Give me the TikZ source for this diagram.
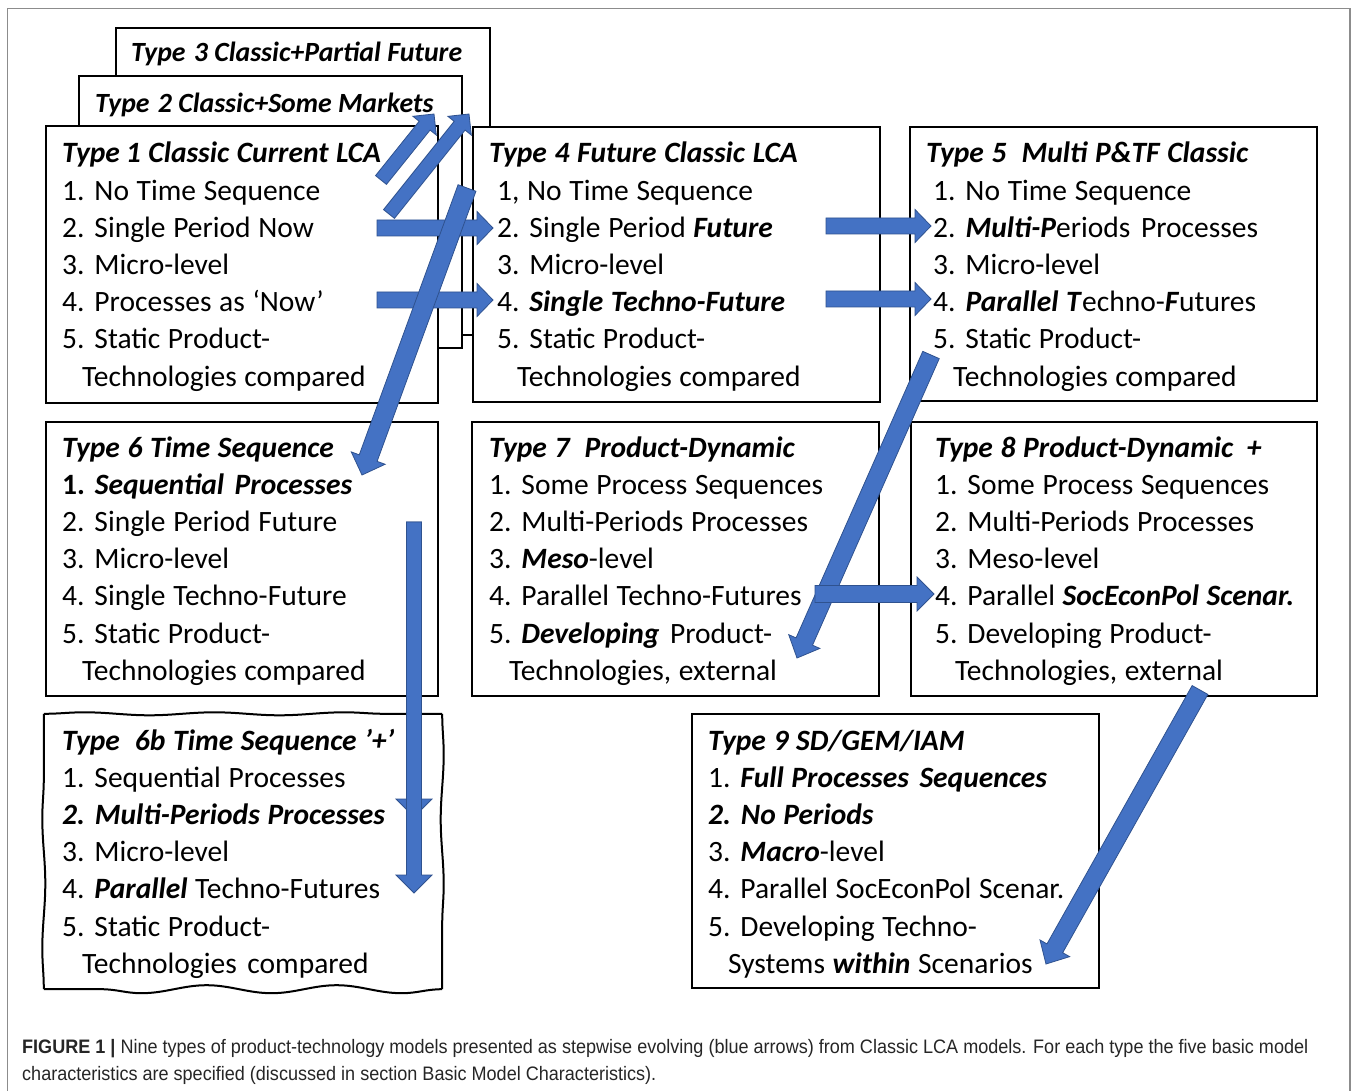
\documentclass[tikz,border=0pt]{standalone}
\usepackage{fontspec}
\usepackage{graphicx}
\setmainfont{Carlito}
\newfontfamily\capfont{Liberation Sans}
\usetikzlibrary{calc,decorations.pathmorphing}
\definecolor{ablue}{HTML}{4472C4}
\definecolor{aedge}{HTML}{2F528F}
\definecolor{framegray}{HTML}{8C8C8C}
\newcommand\bi[1]{\textbf{\textit{#1}}}
\newlength\itemind
\newcommand\boxlines[1]{\vtop{\spaceskip=.26em\relax\baselineskip=37.2pt\lineskiplimit=-100pt\lineskip=0pt #1}}
\newcommand\tli[1]{\hbox{#1}}
\newcommand\li[1]{\hbox{\hspace*{\itemind}#1}}
\newcommand\lc[1]{\hbox{\hspace*{\itemind}\hspace*{20pt}#1}}
% block arrow: from, to, half shaft, half head, head length
\newcommand\barrow[5]{%
  \coordinate (bh) at ($(#2)!#5!(#1)$);
  \filldraw[arrowstyle] ($(#1)!#3!90:(#2)$) -- ($(bh)!#3!90:(#2)$) -- ($(bh)!#4!90:(#2)$) -- (#2)
    -- ($(bh)!#4!-90:(#2)$) -- ($(bh)!#3!-90:(#2)$) -- ($(#1)!#3!-90:(#2)$) -- cycle;}
\tikzset{
  box/.style={draw, line width=2pt, fill=white, rectangle, inner sep=0pt},
  txt/.style={anchor=base west, inner sep=0pt, font=\fontsize{29.5}{37.2}\selectfont},
  ttl/.style={anchor=base west, inner sep=0pt, font=\fontsize{27.8}{30}\selectfont},
  arrowstyle/.style={fill=ablue, draw=aedge, line width=0.8pt, line join=miter},
  wavy/.style={line width=2pt, decorate, decoration={snake, amplitude=#1, segment length=130pt}},
}
\begin{document}
\begin{tikzpicture}[x=1pt,y=-1pt]
\useasboundingbox (0,0) rectangle (1358,1091);
\fill[white] (0,0) rectangle (1358,1091);
\draw[framegray, line width=1.5pt] (7.5,1091) -- (7.5,8.5) -- (1350,8.5) -- (1350,1091);

% stacked boxes 3, 2, 1
\node[box, minimum width=374pt, minimum height=307pt] (t3) at (303,181.5) {};
\node[ttl] (t3txt) at (131,62) {\bi{Type\hspace{.3em}3 Classic+Partial Future}};
\node[box, minimum width=383pt, minimum height=272pt] (t2) at (270.5,212) {};
\node[ttl] (t2txt) at (95,113) {\bi{Type\hspace{.3em}2 Classic+Some Markets}};
\node[box, minimum width=392pt, minimum height=277pt] (t1) at (242,264.5) {};
\node[txt] (t1txt) at (62,163) {\setlength\itemind{0pt}\boxlines{
  \tli{\bi{Type\hspace{.2em}1 Classic Current LCA}}
  \li{1. No Time Sequence}
  \li{2. Single Period Now}
  \li{3. Micro-level}
  \li{4. Processes as ‘Now’}
  \li{5. Static Product-}
  \lc{Technologies compared}}};

% type 4
\node[box, minimum width=407pt, minimum height=275pt] (t4) at (676.5,264.5) {};
\node[txt] (t4txt) at (489,163) {\setlength\itemind{8pt}\boxlines{
  \tli{\bi{Type 4 Future Classic LCA}}
  \li{1, No Time Sequence}
  \li{2. Single Period \bi{Future}}
  \li{3. Micro-level}
  \li{4. \bi{Single Techno-Future}}
  \li{5. Static Product-}
  \lc{Technologies compared}}};

% type 5
\node[box, minimum width=407pt, minimum height=274pt] (t5) at (1113.5,264) {};
\node[txt] (t5txt) at (926,163) {\setlength\itemind{7pt}\boxlines{
  \tli{\bi{Type 5\hspace{.25em} Multi P\&TF Classic}}
  \li{1. No Time Sequence}
  \li{2. \bi{Multi-P}eriods\hspace{.1em} Processes}
  \li{3. Micro-level}
  \li{4. \bi{Parallel T}echno-\bi{F}utures}
  \li{5. Static Product-}
  \lc{Technologies compared}}};

% type 6
\node[box, minimum width=392pt, minimum height=274pt] (t6) at (242,559) {};
\node[txt] (t6txt) at (62,457) {\setlength\itemind{0pt}\boxlines{
  \tli{\bi{Type 6 Time Sequence}}
  \li{\textbf{1.} \bi{Sequential\hspace{.1em} Processes}}
  \li{2. Single Period Future}
  \li{3. Micro-level}
  \li{4. Single Techno-Future}
  \li{5. Static Product-}
  \lc{Technologies compared}}};

% type 7
\node[box, minimum width=407pt, minimum height=274pt] (t7) at (675.5,559) {};
\node[txt] (t7txt) at (489,457) {\setlength\itemind{0pt}\boxlines{
  \tli{\bi{Type 7\hspace{.25em} Product-Dynamic}}
  \li{1. Some Process Sequences}
  \li{2. Multi-Periods Processes}
  \li{3. \bi{Meso}-level}
  \li{4. Parallel Techno-Futures}
  \li{5. \bi{Developing}\hspace{.1em} Product-}
  \lc{Technologies, external}}};

% type 8
\node[box, minimum width=406pt, minimum height=274pt] (t8) at (1114,559) {};
\node[txt] (t8txt) at (935,457) {\setlength\itemind{0pt}\boxlines{
  \tli{\bi{Type 8 Product-Dynamic\hspace{.2em} +}}
  \li{1. Some Process Sequences}
  \li{2. Multi-Periods Processes}
  \li{3. Meso-level}
  \li{4. Parallel \bi{SocEconPol Scenar.}}
  \li{5. Developing Product-}
  \lc{Technologies, external}}};

% type 6b (hand-drawn frame)
\node[rectangle, fill=white, inner sep=0pt, minimum width=398pt, minimum height=275pt] (t6b) at (243,851.5) {};
\draw[wavy=1.5pt] (t6b.north west) -- (t6b.north east);
\draw[wavy=1.5pt] (t6b.north east) -- (t6b.south east);
\draw[wavy=4pt] (t6b.south east) -- (t6b.south west);
\draw[wavy=1.5pt] (t6b.south west) -- (t6b.north west);
\node[txt] (t6btxt) at (62,750) {\setlength\itemind{0pt}\boxlines{
  \tli{\bi{Type\hspace{.25em} 6b Time Sequence ’+’}}
  \li{1. Sequential Processes}
  \li{\bi{2. Multi-Periods Processes}}
  \li{3. Micro-level}
  \li{4. \bi{Parallel} Techno-Futures}
  \li{5. Static Product-}
  \lc{Technologies\hspace{.1em} compared}}};

% type 9
\node[box, minimum width=407pt, minimum height=274pt] (t9) at (895.5,851) {};
\node[txt] (t9txt) at (708,750) {\setlength\itemind{0pt}\boxlines{
  \tli{\bi{Type 9 SD/GEM/IAM}}
  \li{1. \bi{Full Processes\hspace{.1em} Sequences}}
  \li{\bi{2. No Periods}}
  \li{3. \bi{Macro}-level}
  \li{4. Parallel SocEconPol Scenar.}
  \li{5. Developing Techno-}
  \lc{Systems \bi{within} Scenarios}}};

% arrow end points
\coordinate (aS) at (377,228);  \coordinate (aE) at (493,228);
\coordinate (bS) at (377,300);  \coordinate (bE) at (493,300);
\coordinate (cS) at (826,226);  \coordinate (cE) at (931,226);
\coordinate (dS) at (826,299);  \coordinate (dE) at (931,299);
\coordinate (fS) at (381,180);  \coordinate (fE) at (434,114);
\coordinate (gS) at (389,214);  \coordinate (gE) at (469,114);
\coordinate (hS) at (467,188);  \coordinate (hE) at (362,475);
\coordinate (iS) at (414,522);  \coordinate (iE) at (414,817);
\coordinate (jE) at (414,893);
\coordinate (kS) at (931,355);  \coordinate (kE) at (797,658);
\coordinate (eS) at (815,594);  \coordinate (eE) at (934,594);
\coordinate (mS) at (1200,690); \coordinate (mE) at (1046,964);

\barrow{fS}{fE}{7pt}{15pt}{15pt}
\barrow{gS}{gE}{7pt}{15pt}{15pt}
\barrow{aS}{aE}{8pt}{16.5pt}{16pt}
\barrow{bS}{bE}{8pt}{16.5pt}{16pt}
\barrow{hS}{hE}{9.5pt}{18pt}{18pt}
\barrow{cS}{cE}{8pt}{16.5pt}{16pt}
\barrow{dS}{dE}{8pt}{16.5pt}{16pt}
\barrow{iS}{iE}{7.5pt}{18pt}{18pt}
\barrow{iS}{jE}{7.5pt}{18pt}{18pt}
\barrow{kS}{kE}{9pt}{17pt}{18pt}
\barrow{eS}{eE}{8.5pt}{17pt}{17pt}
\barrow{mS}{mE}{9pt}{17pt}{18pt}

% caption
\node[anchor=base west, inner sep=0pt, text=black!85, font=\capfont\fontsize{19.5}{27}\selectfont] (cap) at (22,1053)
  {\resizebox{1286pt}{\height}{\vtop{\baselineskip=27pt\lineskiplimit=-100pt
   \hbox{\textbf{FIGURE 1 |} Nine types of product-technology models presented as stepwise evolving (blue arrows) from Classic LCA models. For each type the five basic model}
   \hbox{characteristics are specified (discussed in section Basic Model Characteristics).}}}};
\end{tikzpicture}
\end{document}
